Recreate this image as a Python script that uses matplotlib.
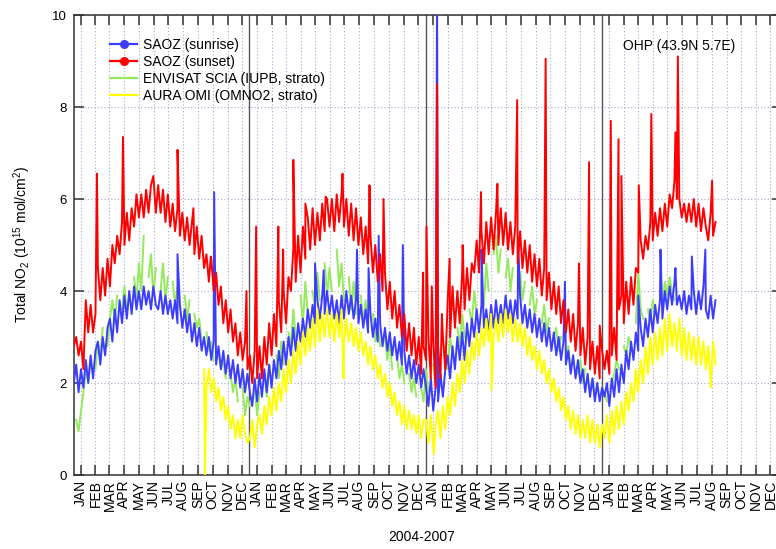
import numpy as np
import matplotlib
matplotlib.use('Agg')
import matplotlib.pyplot as plt
from matplotlib.lines import Line2D
import pandas as pd

plt.rcParams['font.family'] = ['Liberation Sans', 'DejaVu Sans']
plt.rcParams['mathtext.fontset'] = 'custom'
plt.rcParams['mathtext.rm'] = 'Liberation Sans'
plt.rcParams['mathtext.it'] = 'Liberation Sans:italic'

nan = np.nan
STEP = 5  # days between listed samples; days counted from 2004-01-01

# ---------------- SAOZ sunset (red) ----------------
red_2004_start = 0
red_2004 = [2.8, 3.0, 2.6, 2.9, 2.3, 3.8, 3.1, 3.7, 3.1, 3.5, 4.5, 3.8,
            4.5, 3.9, 4.7, 4.1, 5.0, 4.6, 5.2, 4.8, 5.5, 5.0, 5.7, 5.1, 5.8, 5.4,
            6.1, 5.6, 6.1, 5.6, 6.2, 5.7, 6.3, 6.5, 5.7, 6.3, 5.7, 6.2, 5.5, 6.1,
            5.4, 5.9, 5.3, 5.8, 5.2, 5.7, 5.1, 5.6, 5.0, 5.5, 4.8, 5.4, 4.7, 5.2,
            4.5, 4.8, 4.2, 4.7, 4.0, 4.4, 3.7, 4.1, 3.3, 3.8, 3.1, 3.6, 2.9, 3.3,
            2.6, 3.1, 2.5, 2.9, 2.3]
red_2005_start = 365
red_2005 = [2.6, 2.0, 2.7, 2.1, 2.8, 2.1, 3.0, 2.4, 3.3, 2.6, 3.5, 2.8, 3.8, 3.1, 4.0, 3.3,
            4.3, 4.0, 4.9, 4.2, 5.2, 4.4, 5.4, 4.7, 5.6, 4.9, 5.8, 5.0, 5.7, 5.1, 5.9, 5.3,
            6.0, 5.4, 6.0, 5.3, 6.1, 5.5, 6.1, 5.4, 6.0, 5.2, 5.9, 5.1, 5.8, 5.0, 5.6, 4.8,
            5.4, 4.6, 5.2, 4.4, 5.0, 4.2, 4.8, 4.0, 4.4, 3.6, 4.2, 3.4, 4.0, 3.2, 3.7, 3.0,
            3.5, 2.7, 3.3, 2.6, 3.2, 2.4, 3.0, 2.2, 2.8]
red_2006_start = 730
red_2006 = [2.5, 3.0, 2.1, 2.9, 1.9, 2.8, 2.1, 3.0, 2.3, 3.8, 3.0, 4.1, 3.2, 4.0, 3.3, 4.4,
            3.6, 4.5, 3.8, 4.6, 4.4, 5.1, 4.4, 5.3, 4.6, 5.5, 4.8, 5.6, 4.9, 5.7, 5.0, 5.8,
            5.0, 5.7, 4.9, 5.5, 4.8, 5.4, 4.6, 5.3, 4.5, 5.1, 4.4, 5.0, 4.2, 4.8, 4.1, 4.7,
            3.9, 4.5, 3.8, 4.4, 3.6, 4.2, 3.5, 4.1, 3.3, 3.8, 3.1, 3.6, 2.9, 3.5, 2.7, 3.3,
            2.6, 3.2, 2.4, 3.0, 2.3, 2.9, 2.2, 2.8, 2.1, 2.7]
red_2007_start = 1100
red_2007 = [2.3, 2.7, 2.2, 2.6, 3.2, 2.5, 3.6, 3.9, 3.3, 4.2, 3.5, 4.3, 3.7, 4.5, 4.4, 5.1,
            4.7, 5.2, 4.9, 5.5, 5.1, 5.7, 5.2, 5.8, 5.3, 5.9, 5.4, 6.1, 5.8, 6.4, 6.0, 6.0,
            5.6, 5.9, 5.5, 5.9, 5.5, 6.0, 5.4, 5.9, 5.3, 5.8, 5.4, 5.1, 5.7, 5.2, 5.5]
red_spike_days = [48, 102, 215, 248, 284, 358, 378, 424, 434, 455, 480, 522, 557, 613, 642,
                  724, 731, 742, 753, 763, 779, 806, 844, 878, 919, 978, 1047, 1068, 1090,
                  1113, 1129, 1135, 1171, 1197, 1247, 1252, 1323]
red_spike_vals = [6.55, 7.35, 7.07, 5.8, 4.75, 4.0, 5.4, 5.4, 4.9, 6.85, 5.9, 6.05, 6.55, 6.3, 6.0,
                  4.4, 5.4, 4.1, 8.5, 3.5, 4.7, 5.0, 6.15, 6.33, 8.15, 9.05, 4.6, 6.8, 3.25,
                  7.7, 7.3, 6.5, 6.3, 7.85, 7.45, 9.1, 6.4]

# ---------------- SAOZ sunrise (blue) ----------------
blue_2004_start = 0
blue_2004 = [2.0, 2.4, 1.8, 2.3, 1.9, 2.5, 2.0, 2.6, 2.1, 2.7, 2.9, 2.4, 3.0, 2.6, 3.2, 3.4,
             2.9, 3.6, 3.1, 3.8, 3.3, 3.9, 3.4, 4.0, 3.5, 4.1, 3.6, 4.0, 3.6, 4.1, 3.7, 4.0,
             3.6, 4.1, 3.7, 3.6, 4.0, 3.5, 3.9, 3.5, 3.8, 3.4, 3.8, 3.3, 3.7, 3.2, 3.6, 3.1,
             3.5, 2.9, 3.3, 2.8, 3.2, 2.7, 3.0, 2.6, 3.0, 2.5, 2.9, 2.4, 2.8, 2.3, 2.7, 2.2,
             2.6, 2.1, 2.5, 2.0, 2.4, 1.9, 2.3, 1.8, 2.2]
blue_2005_start = 365
blue_2005 = [1.8, 1.5, 2.1, 1.6, 2.2, 1.7, 2.3, 1.8, 2.4, 1.9, 2.5, 2.1, 2.7, 2.3, 2.9, 2.4,
             3.0, 2.6, 3.2, 2.7, 3.3, 2.9, 3.4, 3.0, 3.6, 3.2, 3.7, 3.3, 3.8, 3.4, 3.9, 3.5,
             4.0, 3.5, 3.9, 3.4, 3.8, 3.3, 3.9, 3.4, 4.0, 3.5, 3.9, 3.4, 3.8, 3.3, 3.7, 3.2,
             3.6, 3.1, 3.5, 3.0, 3.4, 2.9, 3.3, 2.8, 3.2, 2.7, 3.1, 2.6, 3.0, 2.5, 2.9, 2.4,
             2.7, 2.2, 2.6, 2.1, 2.5, 2.0, 2.4, 1.9, 2.3]
blue_2006_start = 730
blue_2006 = [1.9, 1.5, 2.1, 1.4, 1.9, 1.6, 2.2, 1.7, 2.3, 2.6, 2.1, 2.8, 2.3, 3.0, 2.5, 3.1,
             2.5, 3.3, 2.8, 3.4, 3.0, 3.6, 3.1, 3.7, 3.2, 3.6, 3.1, 3.7, 3.2, 3.8, 3.3, 3.7,
             3.3, 3.9, 3.4, 3.8, 3.3, 3.8, 3.4, 3.9, 3.3, 3.7, 3.2, 3.6, 3.1, 3.5, 3.0, 3.4,
             2.9, 3.3, 2.8, 3.2, 2.7, 3.1, 2.6, 3.0, 2.5, 2.9, 2.4, 2.7, 2.2, 2.6, 2.1, 2.5,
             2.0, 2.3, 1.8, 2.2, 1.7, 2.1, 1.6, 2.0, 1.6, 1.9]
blue_2007_start = 1100
blue_2007 = [1.7, 2.0, 1.5, 2.1, 1.7, 2.3, 1.8, 2.4, 2.0, 2.7, 2.3, 2.9, 2.5, 3.1, 2.7, 3.2,
             2.8, 3.4, 3.0, 3.6, 3.1, 3.7, 3.3, 3.8, 3.4, 4.0, 3.6, 4.1, 3.7, 4.2, 3.7, 3.9,
             3.6, 4.0, 3.5, 3.9, 3.6, 4.0, 3.5, 4.0, 3.6, 4.1, 3.6, 3.4, 3.9, 3.4, 3.8]
blue_spike_days = [215, 291, 500, 518, 587, 611, 632, 682, 753, 845, 921, 1018,
                   1170, 1216, 1247, 1281, 1309]
blue_spike_vals = [4.8, 6.15, 4.6, 4.45, 4.9, 4.5, 5.2, 5.0, 10.5, 4.9, 5.1, 4.2,
                   3.9, 4.9, 4.5, 4.75, 4.9]

# ---------------- ENVISAT SCIA (green), nan = no data ----------------
green_2004_start = 5
green_2004 = [1.2, 0.95, 1.4, 1.8, 2.3, 2.0, 2.5, nan, 2.3, 2.9, 2.6, 3.2, nan, 2.8, 3.4, 3.8,
              3.3, 3.9, nan, 3.6, 4.1, 3.5, 3.9, nan, 4.3, 3.8, 4.6, 4.0, 5.2, nan, 4.3, 4.8,
              3.9, 4.5, nan, 4.0, 4.6, 3.8, 4.3, nan, 4.2, 3.7, 4.1, 3.6, nan, 3.9, 3.4, 3.8,
              nan, 3.5, 3.2, 3.4, 2.9, nan, 3.1, 2.7, 2.9, 2.5, nan, 2.7, 2.3, 2.5, 2.1, nan,
              2.2, 1.8, 2.1, 1.6, nan, 1.9, 1.3, 1.7]
green_2005_start = 365
green_2005 = [1.5, nan, 1.9, 1.3, 1.8, nan, 2.2, 1.7, 2.4, 2.0, nan, 2.6, 2.1, 2.9, 2.4, nan,
              3.1, 2.8, 3.6, 3.0, nan, 3.9, 3.3, 4.2, 3.5, nan, 4.0, 3.6, 4.4, 3.8, nan, 4.6,
              3.9, 4.5, 4.0, nan, 4.9, 4.1, 4.6, 3.8, nan, 4.3, 3.6, 4.2, 3.5, nan, 3.9, 3.3,
              3.8, 3.1, nan, 3.5, 2.9, 3.3, 2.8, nan, 3.0, 2.5, 2.9, 2.3, nan, 2.6, 2.1, 2.4,
              2.0, nan, 2.2, 1.8, 2.1, 1.7, nan, 1.9, 1.6]
green_2006_start = 730
green_2006 = [2.3, 1.8, nan, 2.4, 2.0, 2.6, 2.2, nan, 2.8, 2.3, 3.0, 2.6, nan, 3.2, 2.8, 3.5,
              3.0, nan, 3.6, 3.3, 4.0, 3.5, nan, 4.2, 3.7, 4.6, 4.0, nan, 4.8, 5.2, 4.4, 4.9,
              nan, 4.3, 4.7, 4.0, 4.5, nan, 4.2, 4.4, 3.8, 4.2, nan, 3.7, 4.1, 3.5, 3.8, nan,
              3.3, 3.7, 3.1, 3.4, nan, 3.0, 3.2, 2.7, 3.0, nan, 2.6, 2.8, 2.3, 2.6, nan, 2.2,
              2.5, 2.0, 2.3, nan, 1.9, 2.1, 1.7, 2.0, nan, 1.9]
green_2007_start = 1100
green_2007 = [1.8, 1.6, nan, 1.9, 2.2, 2.5, 2.3, nan, 2.8, 2.6, 3.0, 2.8, nan, 3.3, 4.4, 3.6,
              3.4, nan, 3.6, 3.3, 3.8, 3.5, nan, 3.9, 3.7, 4.2, 3.9, 4.3, 4.0, 3.8]

# ---------------- AURA OMI (yellow) ----------------
yellow_2004_start = 270
yellow_2004 = [2.3, 1.9, 2.3, 1.8, 2.1, 1.6, 1.9, 1.4, 1.7, 1.2, 1.5, 1.0, 1.3, 0.8, 1.2,
               0.8, 1.3, 0.9, 0.7]
yellow_2005_start = 365
yellow_2005 = [0.8, 1.2, 0.6, 1.1, 1.3, 0.9, 1.5, 1.1, 1.7, 1.3, 1.9, 1.4, 2.0, 1.6, 2.3, 1.8,
               2.5, 2.0, 2.7, 2.2, 2.9, 2.4, 3.1, 2.6, 3.2, 2.7, 3.4, 2.8, 3.6, 2.9, 3.5, 3.0,
               3.6, 3.0, 3.5, 2.9, 3.5, 3.0, 3.6, 2.9, 3.4, 2.9, 3.3, 2.8, 3.2, 2.7, 3.1, 2.6,
               2.9, 2.4, 2.8, 2.3, 2.6, 2.1, 2.4, 1.9, 2.2, 1.7, 2.0, 1.5, 1.8, 1.3, 1.6, 1.1,
               1.5, 1.0, 1.4, 1.0, 1.3, 0.9, 1.3, 0.8, 1.2]
yellow_2006_start = 730
yellow_2006 = [1.2, 0.7, 1.3, 0.6, 1.1, 1.4, 0.8, 1.5, 1.0, 1.7, 1.3, 2.0, 1.5, 2.2, 1.8, 2.5,
               2.0, 2.7, 2.2, 2.9, 2.5, 3.1, 2.6, 3.2, 2.8, 3.4, 2.9, 3.5, 3.0, 3.4, 2.9, 3.5,
               3.0, 3.6, 3.1, 3.5, 2.9, 3.4, 2.9, 3.3, 2.8, 3.2, 2.6, 3.0, 2.5, 2.8, 2.3, 2.7,
               2.2, 2.5, 2.0, 2.3, 1.8, 2.1, 1.6, 1.9, 1.4, 1.7, 1.2, 1.5, 1.0, 1.4, 0.9, 1.3,
               0.8, 1.2, 0.8, 1.3, 0.7, 1.2, 0.7, 1.1, 0.6, 1.1]
yellow_2007_start = 1100
yellow_2007 = [0.8, 1.3, 0.7, 1.4, 0.9, 1.5, 1.0, 1.6, 1.1, 1.8, 1.4, 2.0, 1.6, 2.3, 1.8, 2.5,
               2.0, 2.8, 2.2, 3.0, 2.4, 3.1, 2.5, 3.2, 2.6, 3.4, 2.7, 3.5, 2.8, 3.3, 2.7, 3.4,
               2.6, 3.2, 2.5, 3.1, 2.5, 3.0, 2.4, 3.0, 2.4, 2.9, 2.3, 2.8, 2.0, 2.9, 2.4]
yellow_spike_days = [272, 559, 746, 866, 1320]
yellow_spike_vals = [0.0, 2.1, 0.45, 1.85, 1.9]

month_labels = ['JAN', 'FEB', 'MAR', 'APR', 'MAY', 'JUN',
                'JUL', 'AUG', 'SEP', 'OCT', 'NOV', 'DEC'] * 4
legend_labels = ['SAOZ (sunrise)', 'SAOZ (sunset)',
                 'ENVISAT SCIA (IUPB, strato)', 'AURA OMI (OMNO2, strato)']
station_text = 'OHP (43.9N 5.7E)'
xlabel_text = '2004-2007'
ylabel_text = 'Total NO$_2$ (10$^{15}$ mol/cm$^2$)'
year_line_days = [363, 729, 1095]


def build(blocks, sdays=(), svals=()):
    d, v = [], []
    for start, vals in blocks:
        d += [start + STEP * i for i in range(len(vals))]
        v += list(vals)
    d += list(sdays)
    v += list(svals)
    order = np.argsort(np.array(d, dtype=float), kind='stable')
    return np.array(d, dtype=float)[order], np.array(v, dtype=float)[order]


red_d, red_v = build([(red_2004_start, red_2004), (red_2005_start, red_2005),
                      (red_2006_start, red_2006), (red_2007_start, red_2007)],
                     red_spike_days, red_spike_vals)
blue_d, blue_v = build([(blue_2004_start, blue_2004), (blue_2005_start, blue_2005),
                        (blue_2006_start, blue_2006), (blue_2007_start, blue_2007)],
                       blue_spike_days, blue_spike_vals)
green_d, green_v = build([(green_2004_start, green_2004), (green_2005_start, green_2005),
                          (green_2006_start, green_2006), (green_2007_start, green_2007)])
yel_d, yel_v = build([(yellow_2004_start, yellow_2004), (yellow_2005_start, yellow_2005),
                      (yellow_2006_start, yellow_2006), (yellow_2007_start, yellow_2007)],
                     yellow_spike_days, yellow_spike_vals)

C_BLUE = '#3c3cff'
C_RED = '#ff0000'
C_GREEN = '#94ea5c'
C_YEL = '#ffff00'

W, H = 776, 549
PX_PER_DAY = 0.4825
fig = plt.figure(figsize=(W / 100, H / 100), dpi=100)
ax = fig.add_axes([74 / W, (H - 475) / H, 708 / W, 460 / H])
x_start = 0.5
ax.set_xlim(x_start, x_start + 708 / PX_PER_DAY)
ax.set_ylim(0, 10)

lw = 1.4
ax.plot(green_d, green_v, color=C_GREEN, lw=lw, zorder=3)
ax.plot(blue_d, blue_v, color=C_BLUE, lw=lw, zorder=4)
ax.plot(yel_d, yel_v, color=C_YEL, lw=lw, zorder=5)
ax.plot(red_d, red_v, color=C_RED, lw=lw, zorder=6)

for d in year_line_days:
    ax.axvline(d, color='#555555', lw=1.0, zorder=2)

# month ticks at mid-month
base = pd.Timestamp('2004-01-01')
mstarts = pd.date_range('2004-01-01', periods=48, freq='MS')
tick_days = [(m - base).days + 14 for m in mstarts]
ax.set_xticks(tick_days)
ax.set_xticklabels(month_labels, rotation=90, fontsize=10)
ax.set_yticks([0, 2, 4, 6, 8, 10])
ax.set_yticklabels(['0', '2', '4', '6', '8', '10'], fontsize=9.5)
ax.tick_params(axis='both', direction='in', length=7.5, width=1.1, color='#333333',
               top=True, right=True)
ax.tick_params(axis='x', pad=3.5)
ax.tick_params(axis='y', pad=5)
ax.grid(True, linestyle=(0, (1, 2)), color='#a9a9cf', lw=0.8, zorder=1)
ax.set_axisbelow(True)
for s in ax.spines.values():
    s.set_color('#333333')
    s.set_linewidth(1.1)

fig.text(422 / W, 1 - 537 / H, xlabel_text, ha='center', va='center', fontsize=10)
fig.text(22 / W, 1 - 245 / H, ylabel_text, ha='center', va='center', rotation=90, fontsize=10)
fig.text(623 / W, 1 - 46 / H, station_text, ha='left', va='center', fontsize=10)

handles = [Line2D([], [], color=C_BLUE, lw=1.6, marker='o', markersize=5.5),
           Line2D([], [], color=C_RED, lw=1.6, marker='o', markersize=5.5),
           Line2D([], [], color=C_GREEN, lw=1.6),
           Line2D([], [], color=C_YEL, lw=1.6)]
leg = ax.legend(handles, legend_labels, loc='upper left',
                bbox_to_anchor=(110 / W, 1 - 38 / H), bbox_transform=fig.transFigure,
                frameon=False, fontsize=10, handlelength=1.95, handletextpad=0.45,
                labelspacing=0.22, borderpad=0, borderaxespad=0)
leg.set_zorder(10)

fig.savefig('out.png', dpi=100)
